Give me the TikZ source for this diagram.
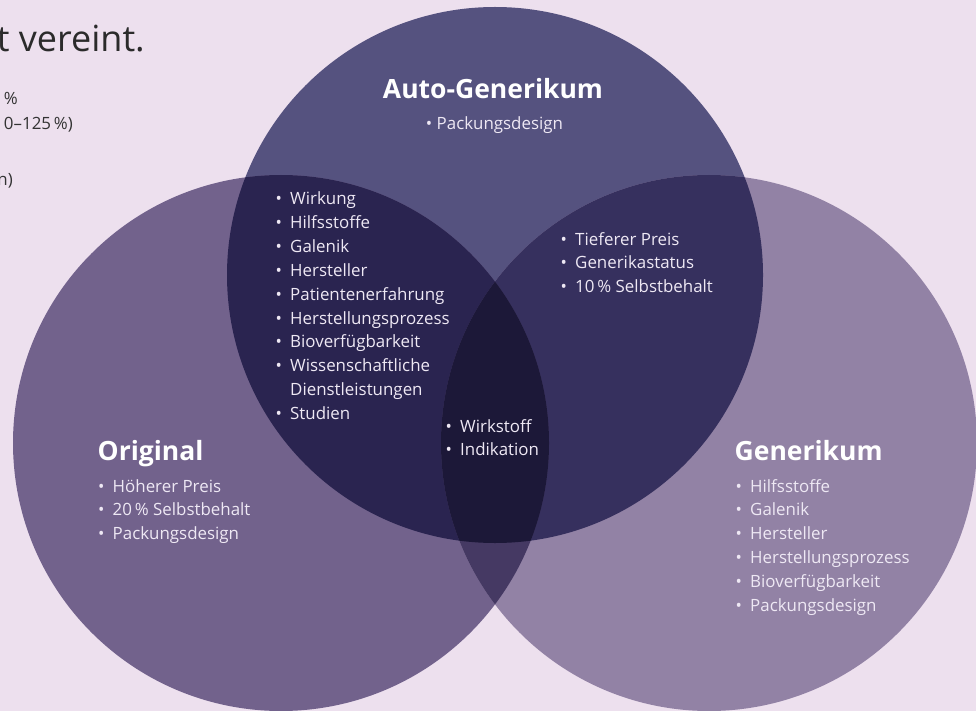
\documentclass[tikz,border=0pt]{standalone}
\usepackage{fontspec}
\setmainfont{Open Sans}
\definecolor{bg}{HTML}{EDE0EE}
\definecolor{ctop}{HTML}{55527F}
\definecolor{cleft}{HTML}{72628C}
\definecolor{cright}{HTML}{9282A5}
\definecolor{ctl}{HTML}{2A2450}
\definecolor{ctr}{HTML}{36305E}
\definecolor{clr}{HTML}{453963}
\definecolor{cc}{HTML}{1C1838}
\definecolor{itemfg}{HTML}{EEE8F4}
\definecolor{titlefg}{HTML}{2B2B2B}
\definecolor{sidefg}{HTML}{333333}
\tikzset{
  itm/.style={anchor=base west, inner sep=0pt, text=itemfg, font=\fontsize{16.9}{20}\selectfont},
  head/.style={inner sep=0pt, text=white, font=\bfseries\fontsize{26.5}{30}\selectfont},
  side/.style={anchor=base east, inner sep=0pt, text=sidefg, font=\fontsize{16.9}{20}\selectfont},
}
\newcommand\bl[1]{\makebox[14.5pt][l]{•}#1}
\newcommand\bcont[1]{\hspace*{14.5pt}#1}
\begin{document}
\begin{tikzpicture}[x=1pt,y=-1pt]
\useasboundingbox (0,0) rectangle (976,711);
\clip (0,0) rectangle (976,711);
\fill[bg] (0,0) rectangle (976,711);
% circles
\fill[ctop] (495,275) circle[radius=268pt];
\fill[cleft] (281,443) circle[radius=268pt];
\fill[cright] (709,443) circle[radius=268pt];
\begin{scope}
  \clip (281,443) circle[radius=268pt];
  \fill[ctl] (495,275) circle[radius=268pt];
\end{scope}
\begin{scope}
  \clip (709,443) circle[radius=268pt];
  \fill[ctr] (495,275) circle[radius=268pt];
\end{scope}
\begin{scope}
  \clip (281,443) circle[radius=268pt];
  \fill[clr] (709,443) circle[radius=268pt];
\end{scope}
\begin{scope}
  \clip (281,443) circle[radius=268pt];
  \clip (709,443) circle[radius=268pt];
  \fill[cc] (495,275) circle[radius=268pt];
\end{scope}
% cut-off text on the left
\node[anchor=base east, inner sep=0pt, text=titlefg, font=\fontsize{36}{42}\selectfont] (title) at (145,52) {t vereint.};
\node[side] (s1) at (18,105) {\%};
\node[side] (s2) at (73,130) {0–125\,\%)};
\node[side] (s3) at (13,186) {n)};
% headings
\node[head, anchor=base] (hauto) at (493,98.5) {Auto-Generikum};
\node[itm, anchor=base] (auto1) at (494.5,130) {• Packungsdesign};
\node[head, anchor=base west] (horig) at (97.5,460.5) {Original};
\node[head, anchor=base west] (hgen) at (734.5,460.5) {Generikum};
% top-left overlap
\foreach \t [count=\i] in {{\bl{Wirkung}},{\bl{Hilfsstoffe}},{\bl{Galenik}},{\bl{Hersteller}},{\bl{Patientenerfahrung}},{\bl{Herstellungsprozess}},{\bl{Bioverfügbarkeit}},{\bl{Wissenschaftliche}},{\bcont{Dienstleistungen}},{\bl{Studien}}}
  \node[itm] (tl\i) at (275.5,{205+23.8*(\i-1)}) {\t};
% top-right overlap
\foreach \t [count=\i] in {{\bl{Tieferer Preis}},{\bl{Generikastatus}},{\bl{10\,\% Selbstbehalt}}}
  \node[itm] (tr\i) at (560.5,{245+23.8*(\i-1)}) {\t};
% centre
\foreach \t [count=\i] in {{\bl{Wirkstoff}},{\bl{Indikation}}}
  \node[itm] (ce\i) at (445.5,{432+23.8*(\i-1)}) {\t};
% Original
\foreach \t [count=\i] in {{\bl{Höherer Preis}},{\bl{20\,\% Selbstbehalt}},{\bl{Packungsdesign}}}
  \node[itm] (or\i) at (98,{492+23.8*(\i-1)}) {\t};
% Generikum
\foreach \t [count=\i] in {{\bl{Hilfsstoffe}},{\bl{Galenik}},{\bl{Hersteller}},{\bl{Herstellungsprozess}},{\bl{Bioverfügbarkeit}},{\bl{Packungsdesign}}}
  \node[itm] (ge\i) at (735.5,{492+23.9*(\i-1)}) {\t};
\end{tikzpicture}
\end{document}
